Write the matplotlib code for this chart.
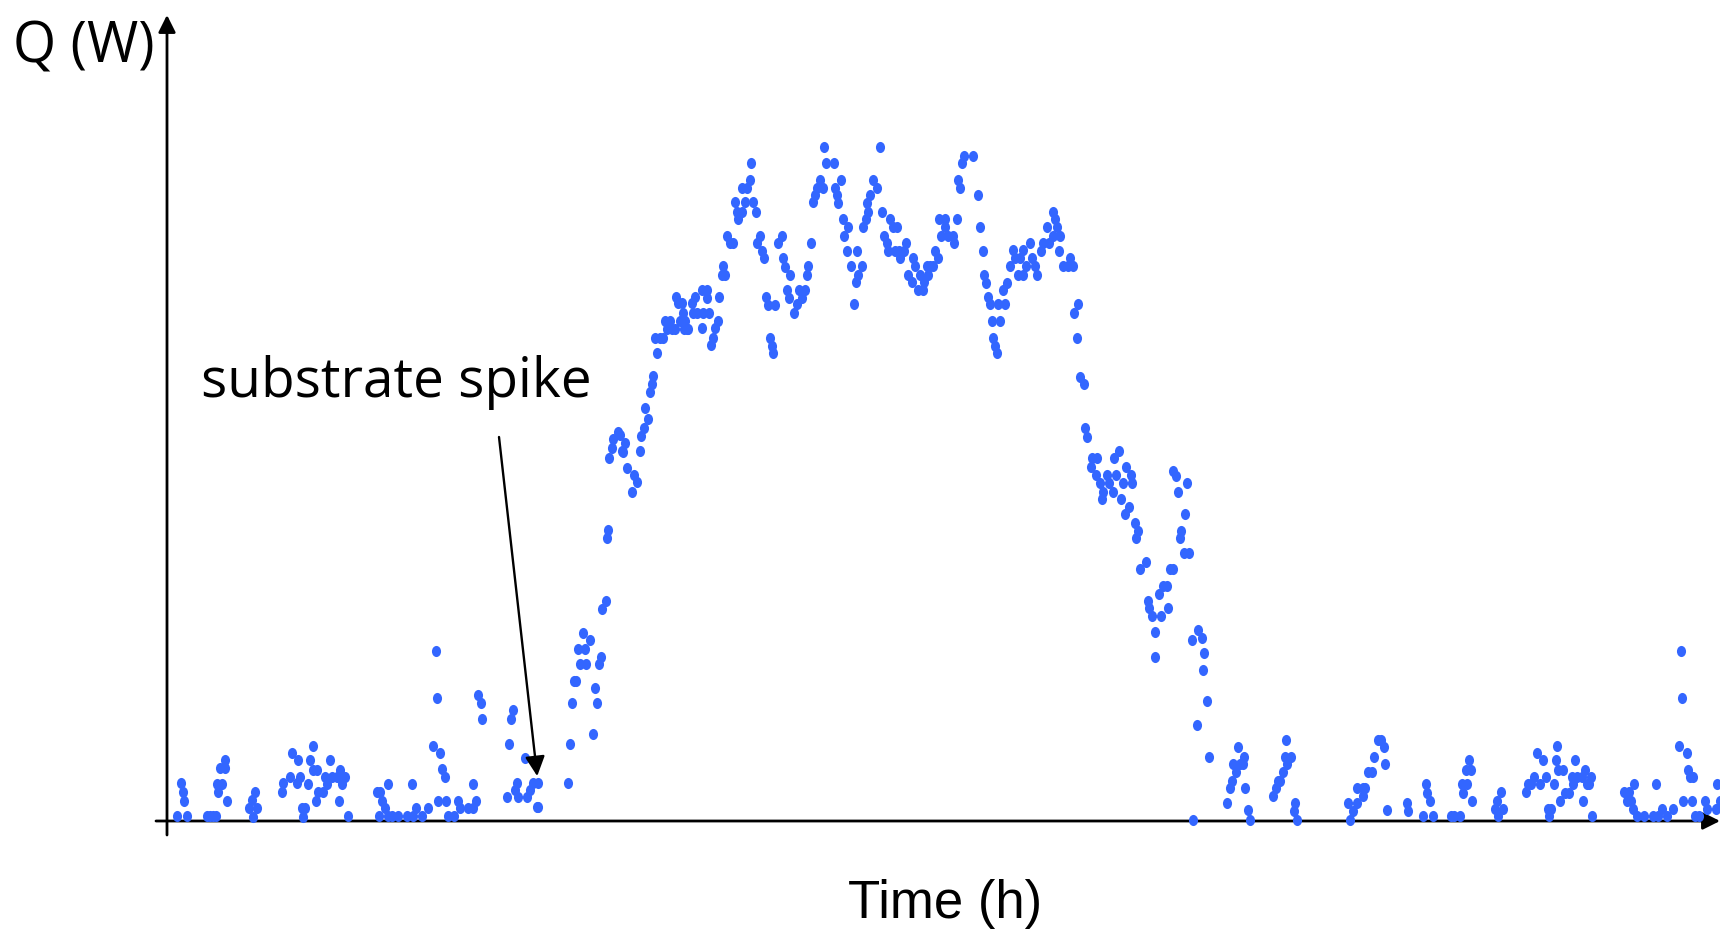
import numpy as np
import matplotlib
matplotlib.use('Agg')
import matplotlib.pyplot as plt
from matplotlib.path import Path
from matplotlib.transforms import Affine2D

# heat flow readings: time in minutes from start, Q in W
morning_t = [10, 20, 14, 16, 17, 40, 43, 46, 49, 50, 55, 51, 53, 58, 58, 60,
             82, 85, 88, 86, 90, 115, 116, 123, 125, 130, 131, 133, 135, 138, 136,
             141, 146, 143, 146, 150, 149, 151, 156, 158, 160, 163, 165, 170, 173,
             175, 178, 172, 181, 210, 213, 215, 218, 221, 212, 221, 225, 231, 240,
             245, 246, 249, 255, 261, 269, 270, 266, 273, 275, 278, 271, 279, 281,
             287, 291, 293, 301, 306, 309, 306, 311, 314, 315, 340, 342, 344, 346,
             350, 348, 351, 358, 360, 363, 366, 371, 370, 371]
morning_q = [5, 5, 38, 29, 20, 5, 5, 5, 5, 37, 37, 29, 53, 53, 61, 20,
             13, 21, 29, 4, 13, 29, 38, 44, 68, 38, 61, 44, 13, 13, 4,
             37, 75, 61, 51, 51, 20, 29, 29, 44, 37, 61, 44, 44, 51,
             37, 44, 20, 5, 29, 29, 20, 13, 37, 5, 5, 5, 5, 5,
             37, 5, 13, 5, 13, 170, 123, 75, 68, 52, 44, 20, 20, 5,
             5, 20, 13, 13, 13, 20, 37, 126, 118, 102, 24, 77, 102, 111,
             38, 31, 24, 63, 24, 31, 38, 38, 14, 14]

day_t = [401, 403, 405, 409, 407, 413, 419, 411, 418, 416, 423, 426, 430, 428,
         432, 434, 435, 439, 440, 441, 442, 445, 446, 451, 453, 455, 458, 456,
         460, 467, 470, 465, 473, 474, 477, 481, 478, 483, 485, 486, 490, 488,
         493, 496, 498, 500, 503, 505, 508, 509, 511, 515, 513, 516, 518, 520,
         521, 517, 525, 526, 528, 530, 535, 540, 540, 536, 542, 535, 544, 546,
         548, 551, 552, 555, 558, 556, 560, 563, 566, 568, 570, 575, 571, 575,
         580, 583, 584, 578, 586, 589, 593, 590, 595, 597, 599, 601, 608, 603,
         605, 606, 611, 615, 616, 618, 623, 620, 622, 627, 630, 632, 635, 638,
         640, 641, 644, 646, 648, 650, 653, 656, 657, 659, 667, 668, 670, 671,
         674, 676, 677, 681, 680, 684, 687, 689, 691, 695, 690, 696, 699, 701,
         700, 703, 706, 710, 713, 715, 717, 721, 720, 723, 726, 730, 728, 733,
         732, 737, 739, 741, 745, 746, 748, 751, 756, 753, 757, 760, 763, 761,
         766, 768, 771, 772, 778, 774, 778, 781, 786, 787, 790, 791, 793, 795,
         797, 806, 811, 813, 816, 817, 819, 821, 823, 825, 826, 828, 830, 831,
         833, 838, 836, 840, 843, 846, 848, 851, 853, 856, 856, 859, 863, 865,
         868, 870, 874, 876, 880, 882, 886, 888, 890, 886, 893, 892, 896, 901,
         903, 906, 907, 911, 910, 913, 917, 918, 920, 925, 930, 924, 929, 933,
         936, 935, 940, 942, 946, 949, 947, 952, 954, 956, 959, 964, 965, 962,
         958, 968, 971, 969, 973, 979, 981, 982, 985, 988, 988, 992, 996, 1000,
         994, 1001, 1003, 1006, 1006, 1009, 1020, 1011, 1018, 1014, 1013, 1017,
         1022, 1031, 1035, 1025, 1037, 1036]
day_q = [38, 77, 118, 140, 140, 157, 157, 172, 172, 188, 181, 87, 118, 133,
         157, 164, 212, 220, 283, 291, 363, 373, 382, 389, 386, 370, 378, 369,
         353, 346, 339, 329, 370, 385, 393, 402, 413, 429, 437, 445, 468, 483,
         483, 483, 500, 492, 500, 492, 492, 524, 518, 518, 500, 508, 500, 492,
         492, 492, 518, 508, 524, 508, 531, 531, 523, 508, 508, 493, 476, 483,
         493, 500, 524, 546, 546, 555, 585, 578, 578, 619, 609, 609, 602, 633,
         633, 641, 658, 619, 619, 609, 585, 578, 570, 563, 524, 516, 516, 483,
         475, 468, 578, 585, 563, 554, 546, 531, 523, 508, 517, 531, 523, 531,
         546, 555, 578, 619, 626, 633, 641, 633, 674, 658, 658, 633, 626, 618,
         641, 602, 585, 594, 570, 555, 517, 539, 546, 555, 570, 594, 602, 609,
         618, 626, 641, 633, 674, 609, 585, 570, 578, 602, 594, 594, 570, 563,
         570, 570, 578, 546, 539, 563, 555, 531, 531, 546, 539, 555, 555, 546,
         555, 570, 563, 602, 602, 585, 594, 585, 585, 578, 602, 641, 633, 658,
         665, 665, 626, 594, 570, 546, 538, 524, 517, 500, 483, 475, 468, 517,
         500, 517, 531, 538, 555, 571, 563, 546, 563, 546, 571, 555, 578, 563,
         555, 546, 570, 578, 594, 578, 609, 602, 594, 585, 585, 570, 555, 555,
         563, 555, 508, 517, 483, 444, 437, 393, 384, 363, 363, 354, 346, 338,
         329, 322, 346, 338, 329, 346, 363, 370, 322, 338, 354, 346, 338, 314,
         307, 298, 290, 283, 252, 259, 220, 213, 205, 189, 164, 227, 235, 235,
         205, 213, 252, 252, 350, 345, 338, 329, 307, 290, 283, 268,
         268, 191, 183, 181, 168, 151]

evening_t = [1040, 1030, 1042, 1026, 1060, 1063, 1065, 1066, 1071, 1069, 1073,
             1076, 1077, 1078, 1081, 1083, 1106, 1109, 1111, 1113, 1116, 1118,
             1119, 1120, 1124, 1128, 1127, 1130, 1181, 1183, 1186, 1190, 1190,
             1196, 1198, 1196, 1201, 1205, 1207, 1211, 1214, 1217, 1218, 1220,
             1240, 1241, 1256, 1259, 1260, 1263, 1266, 1284, 1287, 1293, 1295,
             1296, 1299, 1302, 1304, 1300, 1305, 1328, 1330, 1331, 1334, 1336,
             1359, 1361, 1364, 1367, 1370, 1373, 1376, 1379, 1381, 1382, 1384,
             1387, 1389, 1390, 1393, 1391, 1396, 1398, 1402, 1405, 1406, 1408,
             1410, 1415, 1418, 1416, 1420, 1424, 1422, 1425, 1457, 1460, 1462,
             1464, 1467, 1466, 1470, 1477, 1486, 1489, 1491, 1495, 1500, 1506,
             1512, 1514, 1515, 1516, 1520, 1521, 1523, 1525, 1526, 1528, 1532,
             1538, 1540, 1549, 1550, 1553]
evening_q = [120, 96, 64, 1, 18, 33, 40, 57, 74, 49, 57,
             57, 64, 33, 11, 1, 25, 33, 40, 40, 49, 64,
             81, 57, 64, 18, 10, 1, 18, 1, 10, 18, 33,
             33, 33, 25, 49, 49, 64, 81, 81, 74, 57, 11,
             18, 10, 5, 37, 28, 20, 5, 5, 5, 5, 37,
             28, 51, 61, 51, 37, 20, 12, 20, 5, 29, 12,
             29, 37, 37, 44, 68, 37, 61, 44, 12, 5, 12,
             37, 61, 75, 20, 51, 51, 28, 28, 44, 37, 61,
             44, 44, 51, 20, 37, 44, 37, 5, 29, 20, 29,
             20, 37, 12, 5, 5, 5, 37, 5, 12, 5, 12,
             75, 170, 123, 20, 68, 51, 44, 20, 44, 5, 5,
             20, 12, 12, 37, 20]

spike_label = 'substrate spike'
spike_from = (332, 384)     # label anchor, minutes / W
spike_to = (371, 38)        # reading the arrow points at

t_max, q_max = 1553, 806
dot_color = '#3366ff'

# slightly tall elliptical dots
circle = Path.unit_circle()
dot = Path(Affine2D().scale(0.82, 1.0).transform(circle.vertices), circle.codes)

fig = plt.figure(figsize=(17.2, 9.32), dpi=100)
ax = fig.add_axes([167 / 1720, 111 / 932, 1553 / 1720, 806 / 932])

for t, q in [(morning_t, morning_q), (day_t, day_q), (evening_t, evening_q)]:
    ax.scatter(np.asarray(t) / 60, q, s=64, marker=dot, color=dot_color,
               linewidths=0, clip_on=False, zorder=3)

ax.set_xlim(0, t_max / 60)
ax.set_ylim(0, q_max)
ax.set_xticks([])
ax.set_yticks([])
for sp in ax.spines.values():
    sp.set_visible(False)

# axes drawn as arrows crossing slightly past the origin
axis_arrow = dict(arrowstyle='-|>', lw=2.0, color='black', mutation_scale=26,
                  shrinkA=0, shrinkB=0)
ax.annotate('', xy=(1.0, 0), xytext=(-11 / 1553, 0), xycoords='axes fraction',
            arrowprops=axis_arrow, annotation_clip=False, zorder=2)
ax.annotate('', xy=(0, 1.0), xytext=(0, -14 / 806), xycoords='axes fraction',
            arrowprops=axis_arrow, annotation_clip=False, zorder=2)

ax.annotate('', xy=(spike_to[0] / 60, spike_to[1]),
            xytext=(spike_from[0] / 60, spike_from[1]),
            arrowprops=dict(arrowstyle='-|>', lw=1.7, color='black',
                            mutation_scale=30, shrinkA=0, shrinkB=5),
            zorder=4)

fig.text(201 / 1720, 1 - 397 / 932, spike_label, fontsize=39.5,
         family='Open Sans', va='baseline', ha='left')
fig.text(13 / 1720, 1 - 63 / 932, 'Q (W)', fontsize=40,
         family='Open Sans', va='baseline', ha='left')
fig.text(945 / 1720, 1 - 918 / 932, 'Time (h)', fontsize=38,
         family='Liberation Sans', va='baseline', ha='center')

fig.savefig('out.png', dpi=100)
